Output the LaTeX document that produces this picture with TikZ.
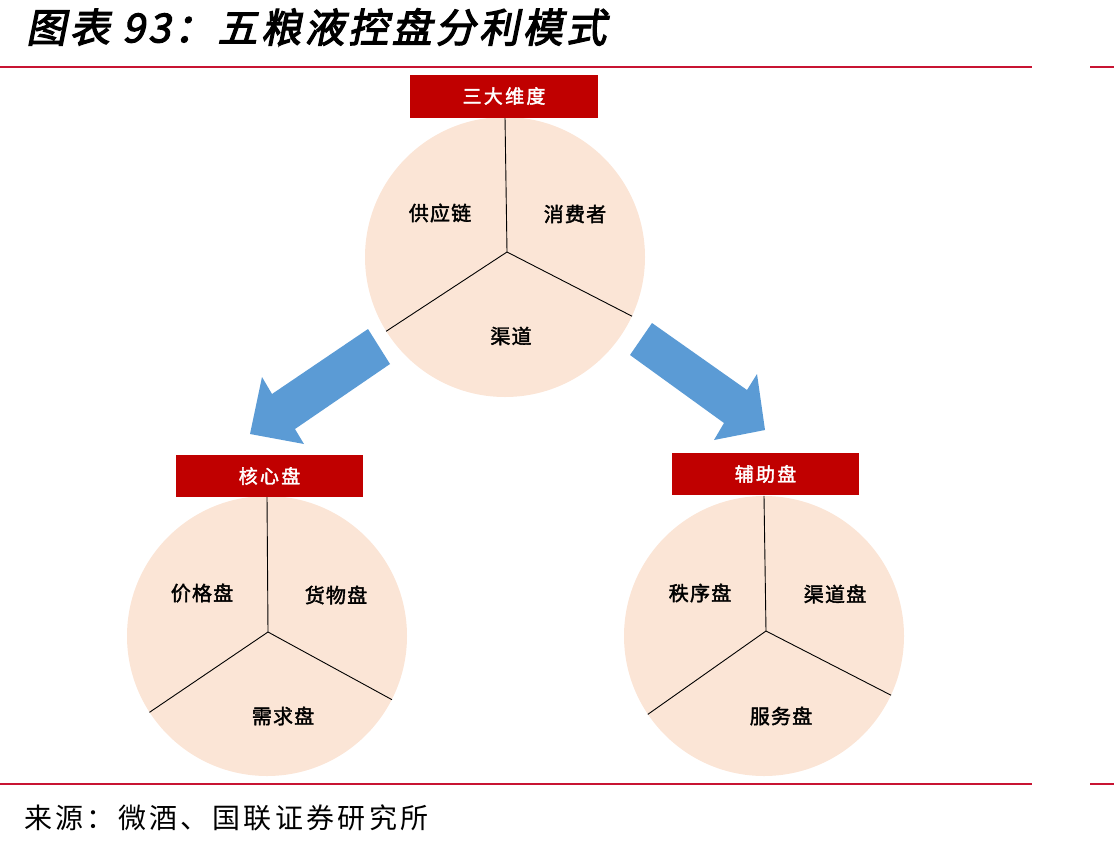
\documentclass[tikz,border=0pt]{standalone}
\usepackage{fontspec}
\newfontfamily\cjk[LetterSpace=12]{Noto Sans CJK SC}
\newfontfamily\cjklabel[FakeBold=2,LetterSpace=6]{Noto Sans CJK SC}
\newfontfamily\cjkhdr[FakeBold=2,LetterSpace=12]{Noto Sans CJK SC}
\newfontfamily\cjktitle[FakeSlant=0.2,FakeBold=3,LetterSpace=9]{Noto Sans CJK SC}
\definecolor{rule}{RGB}{200,20,50}
\definecolor{hdr}{RGB}{192,0,0}
\definecolor{peach}{RGB}{251,229,214}
\definecolor{arrowblue}{RGB}{91,155,213}
\tikzset{
  disc/.style={circle,fill=peach,minimum size=280pt,inner sep=0pt},
  spoke/.style={draw=black,line width=0.9pt},
  hdrbox/.style={fill=hdr,text=white,minimum width=188pt,minimum height=43pt,inner sep=0pt,font=\cjkhdr\fontsize{19}{22}\selectfont},
  seglabel/.style={font=\cjklabel\fontsize{20}{24}\selectfont,text=black,inner sep=0pt},
  bigarrow/.style={fill=arrowblue},
  redrule/.style={draw=rule,line width=2pt}
}
\begin{document}
\begin{tikzpicture}[x=1pt,y=-1pt]
\useasboundingbox (0,0) rectangle (1114,849);
% title
\node[anchor=west,inner sep=0pt,font=\cjktitle\fontsize{40}{44}\selectfont] (title) at (26,27) {图表 93：五粮液控盘分利模式};
% rules
\draw[redrule] (0,67) -- (1032,67);
\draw[redrule] (1090,67) -- (1114,67);
\draw[redrule] (0,784) -- (1032,784);
\draw[redrule] (1090,784) -- (1114,784);
% top circle
\node[disc] (c1) at (505,257) {};
\coordinate (o1) at (507,252);
\draw[spoke] (o1) -- (c1.90);
\draw[spoke] (o1) -- (c1.212);
\draw[spoke] (o1) -- (c1.-25);
\node[hdrbox] (h1) at (504,96) {三大维度};
\node[seglabel] (l11) at (440,213) {供应链};
\node[seglabel] (l12) at (575,214) {消费者};
\node[seglabel] (l13) at (511,336) {渠道};
% left circle
\node[disc] (c2) at (267,636) {};
\coordinate (o2) at (268,632);
\draw[spoke] (o2) -- (c2.90);
\draw[spoke] (o2) -- (c2.213);
\draw[spoke] (o2) -- (c2.-27);
\node[hdrbox,minimum width=187pt,minimum height=42pt] (h2) at (269.5,476) {核心盘};
\node[seglabel] (l21) at (202,593) {价格盘};
\node[seglabel] (l22) at (336,595) {货物盘};
\node[seglabel] (l23) at (283,716) {需求盘};
% right circle
\node[disc] (c3) at (764,636) {};
\coordinate (o3) at (766,631);
\draw[spoke] (o3) -- (c3.90);
\draw[spoke] (o3) -- (c3.214);
\draw[spoke] (o3) -- (c3.-25);
\node[hdrbox,minimum width=187pt,minimum height=42pt] (h3) at (765.5,474) {辅助盘};
\node[seglabel] (l31) at (700,593) {秩序盘};
\node[seglabel] (l32) at (835,594) {渠道盘};
\node[seglabel] (l33) at (781,716) {服务盘};
% arrows
\fill[bigarrow] (368,329) -- (390,364) -- (295,429) -- (304,444) -- (250,434) -- (262,377) -- (272,394) -- cycle;
\fill[bigarrow] (652,323) -- (630,355) -- (724,423) -- (714,440) -- (765,430) -- (757,374) -- (747,390) -- cycle;
% source
\node[anchor=west,inner sep=0pt,font=\cjk\fontsize{28}{32}\selectfont] (src) at (24,818) {来源：微酒、国联证券研究所};
\end{tikzpicture}
\end{document}
